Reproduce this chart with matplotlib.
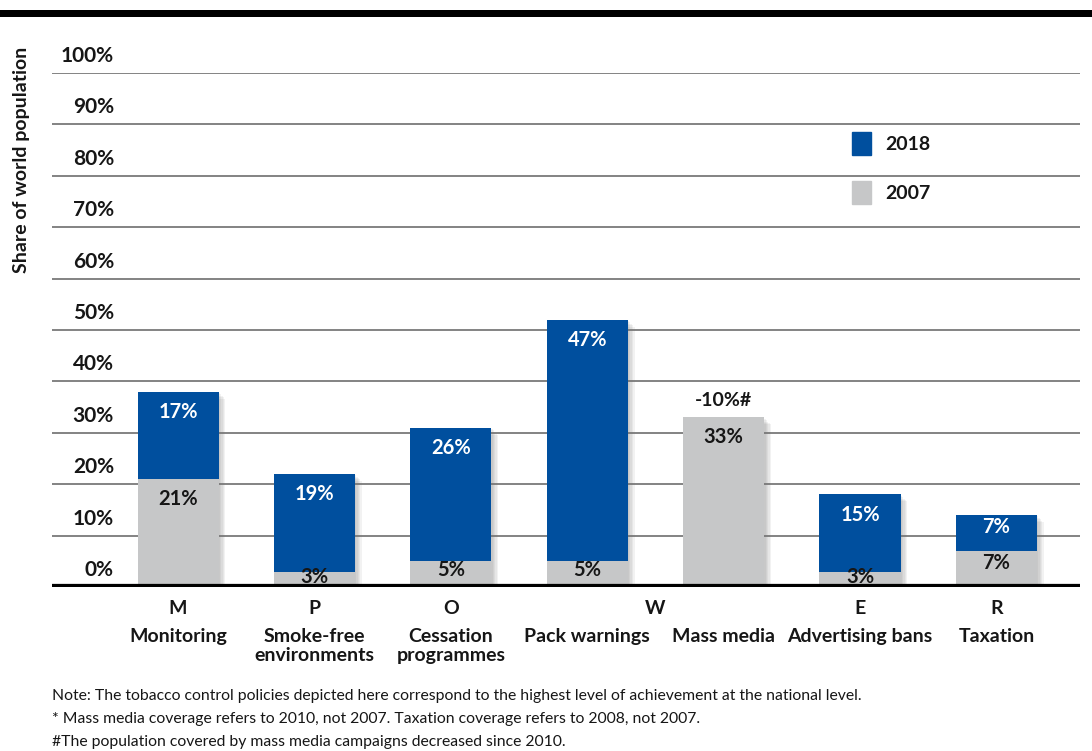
import matplotlib
matplotlib.use('Agg')
import matplotlib.pyplot as plt
import matplotlib.patheffects as pe
from matplotlib.patches import Rectangle, Patch

plt.rcParams['font.family'] = ['Lato', 'DejaVu Sans']

# MPOWER coverage, share of world population (%)
categories = ['Monitoring', 'Smoke-free\nenvironments', 'Cessation\nprogrammes',
              'Pack warnings', 'Mass media', 'Advertising bans', 'Taxation']
letters = ['M', 'P', 'O', 'W', 'E', 'R']
letter_pos = [0, 1, 2, 3.5, 5, 6]
share_2007 = [21, 3, 5, 5, 33, 3, 7]
gain_2018 = [17, 19, 26, 47, 0, 15, 7]
mass_media_note = '-10%#'
y_ticks = [0, 10, 20, 30, 40, 50, 60, 70, 80, 90, 100]
notes = [
    'Note: The tobacco control policies depicted here correspond to the highest level of achievement at the national level.',
    '* Mass media coverage refers to 2010, not 2007. Taxation coverage refers to 2008, not 2007.',
    '#The population covered by mass media campaigns decreased since 2010.',
]

BLUE = '#004f9e'
GREY = '#c6c7c8'
INK = '#161616'

W, H = 1092, 751
fig = plt.figure(figsize=(W / 100, H / 100), dpi=100)
ax = fig.add_axes([52 / W, (H - 587) / H, (1080 - 52) / W, (587 - 73) / H])
ax.set_ylim(0, 100)
ax.set_xlim(-0.924, 6.613)
ax.axis('off')

# thick rule across the top of the page
fig.add_artist(Rectangle((0, (H - 17) / H), 1, 7 / H, transform=fig.transFigure,
                         color='black', lw=0))

for v in y_ticks:
    if v > 0:
        ax.axhline(v, color='#6e6e6e', lw=1.2, zorder=0)
    ax.text(-0.47, v + 3.3, f'{v}%', ha='right', va='center',
            fontsize=15, fontweight='bold', color=INK)
ax.axhline(0, color='black', lw=4.5, zorder=5)

x = list(range(len(categories)))
totals = [a + b for a, b in zip(share_2007, gain_2018)]
bw = 0.594

# soft drop shadow behind each full stack, built from a few faint layers
shadow = [pe.SimplePatchShadow(offset=(d, -d), shadow_rgbFace='#777777', alpha=0.09)
          for d in (1, 2, 3, 4, 5)]
ax.bar(x, totals, width=bw, color=GREY, zorder=1.5,
       path_effects=shadow + [pe.Normal()])
ax.bar(x, share_2007, width=bw, color=GREY, zorder=2)
ax.bar(x, gain_2018, width=bw, bottom=share_2007, color=BLUE, zorder=2)


def seg_label(xi, top, seg, color):
    ax.text(xi, top - min(3.9, 0.33 * seg), f'{seg}%', ha='center', va='center',
            fontsize=14.5, fontweight='bold', color=color, zorder=6)


for xi, base, gain in zip(x, share_2007, gain_2018):
    seg_label(xi, base, base, INK)
    if gain > 0:
        seg_label(xi, base + gain, gain, 'white')

ax.text(4, share_2007[4] + 3.2, mass_media_note, ha='center', va='center',
        fontsize=14, fontweight='bold', color=INK)

for pos, letter in zip(letter_pos, letters):
    ax.text(pos, -4.1, letter, ha='center', va='center', fontsize=14,
            fontweight='bold', color=INK, clip_on=False)
for xi, name in zip(x, categories):
    ax.text(xi, -7.9, name, ha='center', va='top', fontsize=14, fontweight='bold',
            color=INK, linespacing=1.15, clip_on=False)

fig.text(22 / W, 1 - 160 / H, 'Share of world population', rotation=90,
         ha='center', va='center', fontsize=14, fontweight='bold', color=INK)

leg = ax.legend(handles=[Patch(color=BLUE), Patch(color=GREY)], labels=['2018', '2007'],
                loc='upper left', bbox_to_anchor=(852 / W, 1 - 132 / H),
                bbox_transform=fig.transFigure, frameon=False, borderpad=0,
                borderaxespad=0, handlelength=1.0, handleheight=1.45,
                handletextpad=0.7, labelspacing=1.35,
                prop={'size': 14, 'weight': 'bold'})
for t in leg.get_texts():
    t.set_color(INK)

for i, line in enumerate(notes):
    fig.text(52 / W, 1 - (696 + 23 * i) / H, line, fontsize=11.3, va='center',
             color=INK)

fig.savefig('out.png', dpi=100)
